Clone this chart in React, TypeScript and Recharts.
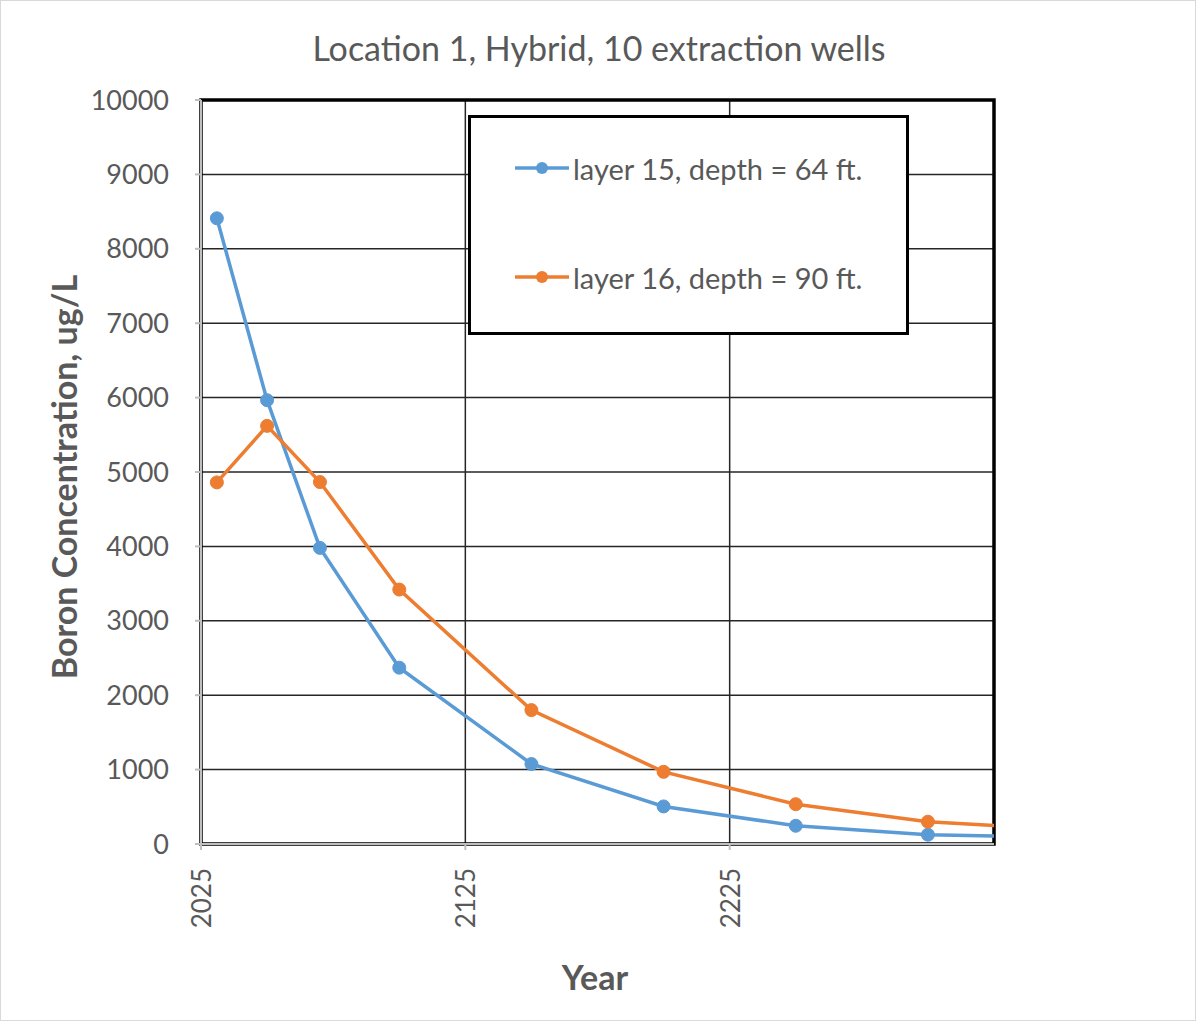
import { LineChart, Line, XAxis, YAxis, CartesianGrid, ReferenceArea } from 'recharts';

const years = [2031, 2050, 2070, 2100, 2150, 2200, 2250, 2300, 2350];
const layer15 = [8410, 5965, 3980, 2370, 1075, 505, 245, 125, 90];
const layer16 = [4860, 5620, 4865, 3420, 1800, 970, 535, 300, 200];
const xTicks = [2025, 2125, 2225];
const yTicks = [0, 1000, 2000, 3000, 4000, 5000, 6000, 7000, 8000, 9000, 10000];
const seriesNames = ['layer 15, depth = 64 ft.', 'layer 16, depth = 90 ft.'];

const BLUE = '#5B9BD5';
const ORANGE = '#ED7D31';
const TEXT = '#595959';
const FONT = 'Lato, "Open Sans", sans-serif';

const data = years.map((year, i) => ({ year, l15: layer15[i], l16: layer16[i] }));

const XTick = ({ x, y, payload }: any) => {
    const ay = y + 18;
    return (
        <text
            x={x}
            y={ay}
            transform={`rotate(-90, ${x}, ${ay})`}
            textAnchor="end"
            dominantBaseline="central"
            fill={TEXT}
            fontSize={26}
            fontFamily={FONT}
        >
            {payload.value}
        </text>
    );
};

const LegendBox = () => (
    <div
        style={{
            position: 'absolute',
            left: 467,
            top: 114,
            width: 441,
            height: 220,
            boxSizing: 'border-box',
            border: '3px solid #000',
            background: '#fff',
            fontFamily: FONT,
            fontSize: 29,
            color: TEXT,
        }}
    >
        {[BLUE, ORANGE].map((c, i) => (
            <div
                key={i}
                style={{ position: 'absolute', left: 42, top: (i === 0 ? 50 : 159) - 20, height: 40, display: 'flex', alignItems: 'center' }}
            >
                <svg width={58} height={20}>
                    <line x1={2} y1={10} x2={56} y2={10} stroke={c} strokeWidth={3.5} />
                    <circle cx={29} cy={10} r={6} fill={c} />
                </svg>
                <span style={{ marginLeft: 2, whiteSpace: 'nowrap' }}>{seriesNames[i]}</span>
            </div>
        ))}
    </div>
);

export default function App() {
    return (
        <div
            style={{
                position: 'absolute',
                left: 0,
                top: 0,
                width: 1196,
                height: 1021,
                background: '#fff',
                border: '1px solid #d9d9d9',
                boxSizing: 'border-box',
                fontFamily: FONT,
            }}
        >
            <div style={{ position: 'absolute', left: 0, top: 0 }}>
                <LineChart width={1196} height={1021} data={data} margin={{ top: 99, right: 203, bottom: 0, left: 0 }}>
                    <CartesianGrid stroke="#262626" strokeWidth={1.5} verticalValues={[2125, 2225]} />
                    <XAxis
                        dataKey="year"
                        type="number"
                        domain={[2025, 2325]}
                        allowDataOverflow
                        ticks={xTicks}
                        height={178}
                        tick={<XTick />}
                        tickSize={6}
                        tickMargin={0}
                        stroke="#bfbfbf"
                        strokeWidth={2}
                    />
                    <YAxis
                        type="number"
                        domain={[0, 10000]}
                        ticks={yTicks}
                        width={200}
                        tick={{ fill: TEXT, fontSize: 27, fontFamily: FONT }}
                        tickSize={6}
                        tickMargin={26}
                        stroke="#bfbfbf"
                        strokeWidth={2}
                        interval={0}
                    />
                    <ReferenceArea x1={2025} x2={2325} y1={0} y2={10000} fill="none" stroke="#000" strokeWidth={3.5} ifOverflow="visible" />
                    <Line
                        dataKey="l15"
                        name={seriesNames[0]}
                        stroke={BLUE}
                        strokeWidth={3.5}
                        dot={{ r: 6.5, fill: BLUE, stroke: BLUE, strokeWidth: 1 }}
                        isAnimationActive={false}
                    />
                    <Line
                        dataKey="l16"
                        name={seriesNames[1]}
                        stroke={ORANGE}
                        strokeWidth={3.5}
                        dot={{ r: 6.5, fill: ORANGE, stroke: ORANGE, strokeWidth: 1 }}
                        isAnimationActive={false}
                    />
                </LineChart>
            </div>
            <LegendBox />
            <div
                style={{
                    position: 'absolute',
                    left: 0,
                    width: 1196,
                    top: 47,
                    transform: 'translateY(-50%)',
                    textAlign: 'center',
                    fontSize: 34,
                    lineHeight: '40px',
                    color: TEXT,
                }}
            >
                Location 1, Hybrid, 10 extraction wells
            </div>
            <div
                style={{
                    position: 'absolute',
                    left: 62,
                    top: 476,
                    transform: 'translate(-50%, -50%) rotate(-90deg)',
                    whiteSpace: 'nowrap',
                    fontSize: 34,
                    fontWeight: 700,
                    color: TEXT,
                }}
            >
                Boron Concentration, ug/L
            </div>
            <div
                style={{
                    position: 'absolute',
                    left: 594,
                    top: 975,
                    transform: 'translate(-50%, -50%)',
                    fontSize: 34,
                    fontWeight: 700,
                    color: TEXT,
                }}
            >
                Year
            </div>
        </div>
    );
}
